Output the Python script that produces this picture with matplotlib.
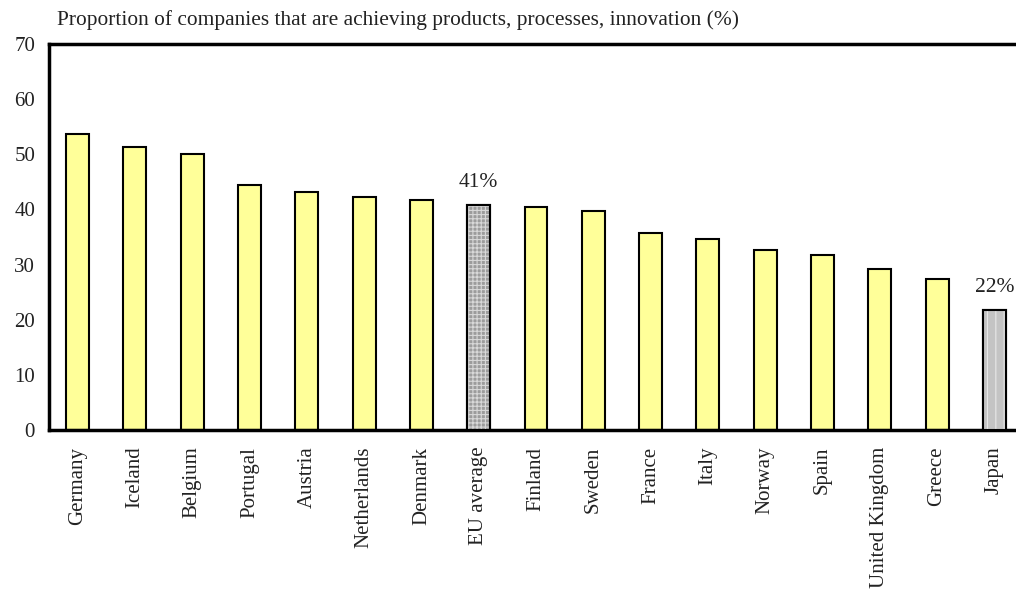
import matplotlib.pyplot as plt

countries = ["Germany", "Iceland", "Belgium", "Portugal", "Austria", "Netherlands",
             "Denmark", "EU average", "Finland", "Sweden", "France", "Italy",
             "Norway", "Spain", "United Kingdom", "Greece", "Japan"]
values = [53.7, 51.4, 50.1, 44.5, 43.2, 42.3, 41.7, 40.8, 40.5, 39.7,
          35.8, 34.7, 32.7, 31.8, 29.2, 27.4, 21.8]
labels = {"EU average": "41%", "Japan": "22%"}

plt.rcParams['font.family'] = ['Liberation Serif', 'DejaVu Serif']
plt.rcParams['hatch.linewidth'] = 0.8

fig = plt.figure(figsize=(10.16, 5.9), dpi=100)
ax = fig.add_axes([49 / 1016, 1 - 430 / 590, 974 / 1016, 386 / 590])

x = list(range(len(countries)))
ax.bar(x, values, width=0.4, color="#ffff99", edgecolor="black", linewidth=1.5, zorder=2)

# EU average: grey with fine light grid, Japan: light grey with pale stripes
eu = countries.index("EU average")
jp = countries.index("Japan")
ax.bar(eu, values[eu], width=0.4, color="#9c9c9c", edgecolor="#d8d8d8", hatch="++++", linewidth=0, zorder=3)
ax.bar(jp, values[jp], width=0.4, color="#c4c4c4", edgecolor="#e8e8e8", hatch="||", linewidth=0, zorder=3)
ax.bar([eu, jp], [values[eu], values[jp]], width=0.4, fill=False, edgecolor="black", linewidth=1.5, zorder=4)

for name, txt in labels.items():
    i = countries.index(name)
    ax.text(i, values[i] + 2.4, txt, ha="center", va="bottom", fontsize=15.5, color="#222222")

ax.set_xlim(-0.5, len(countries) - 0.5)
ax.set_ylim(0, 70)
ax.set_yticks(range(0, 71, 10))
ax.set_xticks(x)
ax.set_xticklabels(countries, rotation=90)
ax.tick_params(axis="both", length=0, labelsize=15, colors="#222222")
ax.tick_params(axis="y", pad=10)
ax.tick_params(axis="x", pad=12)
for s in ax.spines.values():
    s.set_linewidth(2.5)

fig.text(57 / 1016, 1 - 20 / 590, "Proportion of companies that are achieving products, processes, innovation (%)",
         ha="left", va="center", fontsize=15.4, color="#222222")

fig.savefig("out.png", dpi=100)
